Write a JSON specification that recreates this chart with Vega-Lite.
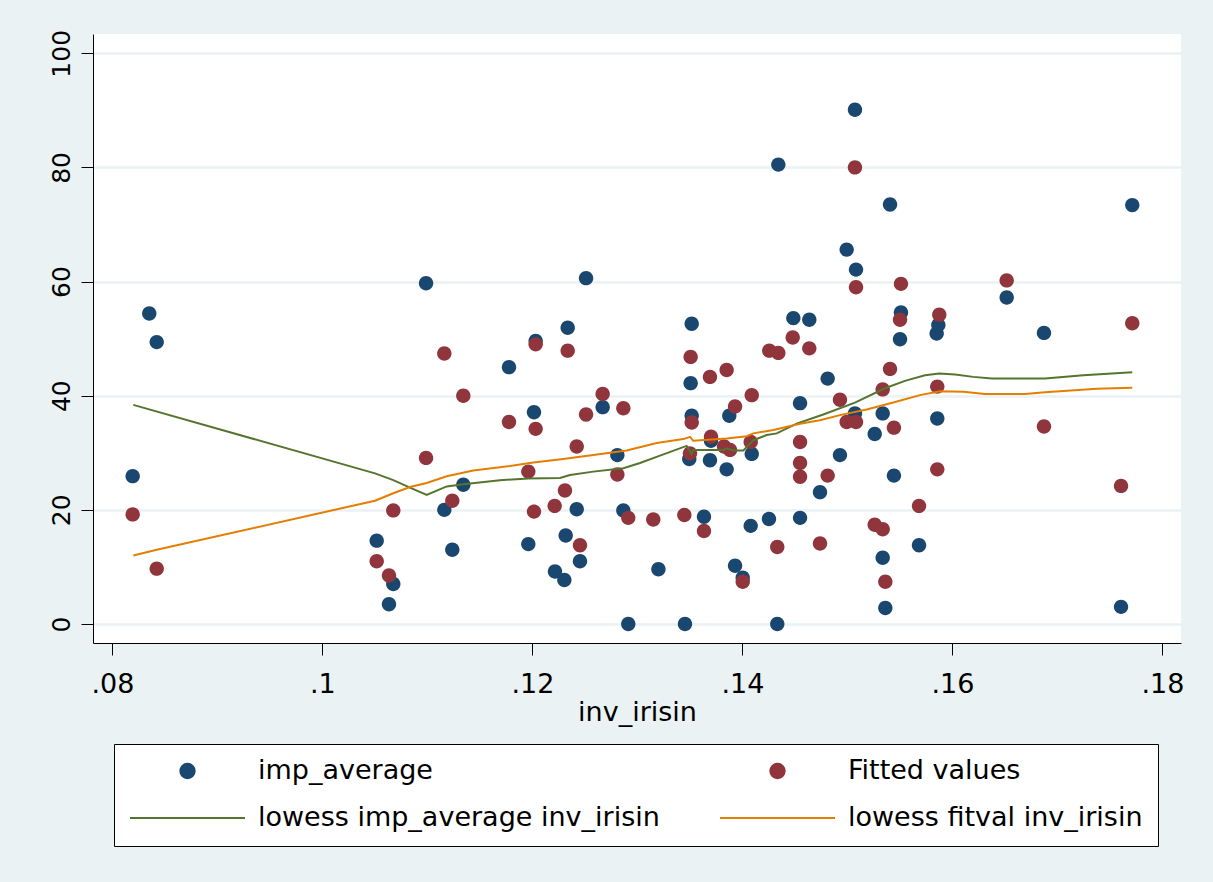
{
  "$schema": "https://vega.github.io/schema/vega-lite/v6.json",
  "width": 1088,
  "height": 609,
  "autosize": {"type": "none"},
  "padding": {"left": 93, "top": 34, "right": 32, "bottom": 239},
  "background": "#EAF2F3",
  "config": {
    "view": {"fill": "white", "stroke": null},
    "font": "DejaVu Sans",
    "axis": {
      "domainColor": "black",
      "domainWidth": 1,
      "tickColor": "black",
      "tickWidth": 1,
      "tickSize": 12,
      "labelColor": "black",
      "labelFont": "DejaVu Sans",
      "titleFont": "DejaVu Sans",
      "titleColor": "black",
      "titleFontWeight": "normal"
    },
    "legend": {
      "orient": "none",
      "direction": "horizontal",
      "legendX": 21,
      "legendY": 710,
      "columns": 2,
      "gridAlign": "each",
      "labelFont": "DejaVu Sans",
      "labelFontSize": 27,
      "labelColor": "black",
      "labelOffset": 12,
      "labelLimit": 800,
      "symbolSize": 13225,
      "symbolStrokeWidth": 2,
      "clipHeight": 24,
      "rowPadding": 20,
      "columnPadding": 59,
      "padding": 15,
      "strokeColor": "black",
      "fillColor": "white"
    }
  },
  "datasets": {
    "pts": [
      {"inv_irisin": 0.08193, "value": 25.9, "series": "imp_average"},
      {"inv_irisin": 0.08351, "value": 54.4, "series": "imp_average"},
      {"inv_irisin": 0.08422, "value": 49.4, "series": "imp_average"},
      {"inv_irisin": 0.10517, "value": 14.6, "series": "imp_average"},
      {"inv_irisin": 0.10634, "value": 3.45, "series": "imp_average"},
      {"inv_irisin": 0.10675, "value": 7.0, "series": "imp_average"},
      {"inv_irisin": 0.10987, "value": 59.7, "series": "imp_average"},
      {"inv_irisin": 0.11161, "value": 20.0, "series": "imp_average"},
      {"inv_irisin": 0.11237, "value": 13.0, "series": "imp_average"},
      {"inv_irisin": 0.11342, "value": 24.4, "series": "imp_average"},
      {"inv_irisin": 0.11777, "value": 45.0, "series": "imp_average"},
      {"inv_irisin": 0.11961, "value": 14.0, "series": "imp_average"},
      {"inv_irisin": 0.12015, "value": 37.1, "series": "imp_average"},
      {"inv_irisin": 0.12031, "value": 49.6, "series": "imp_average"},
      {"inv_irisin": 0.12215, "value": 9.2, "series": "imp_average"},
      {"inv_irisin": 0.12304, "value": 7.7, "series": "imp_average"},
      {"inv_irisin": 0.12317, "value": 15.5, "series": "imp_average"},
      {"inv_irisin": 0.12336, "value": 51.9, "series": "imp_average"},
      {"inv_irisin": 0.12422, "value": 20.1, "series": "imp_average"},
      {"inv_irisin": 0.12453, "value": 11.0, "series": "imp_average"},
      {"inv_irisin": 0.12511, "value": 60.6, "series": "imp_average"},
      {"inv_irisin": 0.12669, "value": 38.0, "series": "imp_average"},
      {"inv_irisin": 0.12809, "value": 29.6, "series": "imp_average"},
      {"inv_irisin": 0.12866, "value": 19.9, "series": "imp_average"},
      {"inv_irisin": 0.12913, "value": 0.0, "series": "imp_average"},
      {"inv_irisin": 0.132, "value": 9.6, "series": "imp_average"},
      {"inv_irisin": 0.13453, "value": 0.0, "series": "imp_average"},
      {"inv_irisin": 0.13494, "value": 28.9, "series": "imp_average"},
      {"inv_irisin": 0.13507, "value": 42.2, "series": "imp_average"},
      {"inv_irisin": 0.13517, "value": 52.6, "series": "imp_average"},
      {"inv_irisin": 0.13517, "value": 36.5, "series": "imp_average"},
      {"inv_irisin": 0.13634, "value": 18.8, "series": "imp_average"},
      {"inv_irisin": 0.13691, "value": 28.7, "series": "imp_average"},
      {"inv_irisin": 0.13701, "value": 32.1, "series": "imp_average"},
      {"inv_irisin": 0.1385, "value": 27.1, "series": "imp_average"},
      {"inv_irisin": 0.13875, "value": 36.5, "series": "imp_average"},
      {"inv_irisin": 0.1393, "value": 10.2, "series": "imp_average"},
      {"inv_irisin": 0.14003, "value": 8.1, "series": "imp_average"},
      {"inv_irisin": 0.14079, "value": 17.2, "series": "imp_average"},
      {"inv_irisin": 0.14089, "value": 29.8, "series": "imp_average"},
      {"inv_irisin": 0.14253, "value": 18.4, "series": "imp_average"},
      {"inv_irisin": 0.14332, "value": 0.0, "series": "imp_average"},
      {"inv_irisin": 0.14342, "value": 80.5, "series": "imp_average"},
      {"inv_irisin": 0.14485, "value": 53.6, "series": "imp_average"},
      {"inv_irisin": 0.14549, "value": 38.7, "series": "imp_average"},
      {"inv_irisin": 0.14549, "value": 18.6, "series": "imp_average"},
      {"inv_irisin": 0.14637, "value": 53.3, "series": "imp_average"},
      {"inv_irisin": 0.14739, "value": 23.1, "series": "imp_average"},
      {"inv_irisin": 0.14812, "value": 43.0, "series": "imp_average"},
      {"inv_irisin": 0.14929, "value": 29.6, "series": "imp_average"},
      {"inv_irisin": 0.14993, "value": 65.6, "series": "imp_average"},
      {"inv_irisin": 0.15072, "value": 90.1, "series": "imp_average"},
      {"inv_irisin": 0.15072, "value": 36.9, "series": "imp_average"},
      {"inv_irisin": 0.15082, "value": 62.1, "series": "imp_average"},
      {"inv_irisin": 0.1526, "value": 33.3, "series": "imp_average"},
      {"inv_irisin": 0.15336, "value": 36.9, "series": "imp_average"},
      {"inv_irisin": 0.15336, "value": 11.6, "series": "imp_average"},
      {"inv_irisin": 0.15361, "value": 2.8, "series": "imp_average"},
      {"inv_irisin": 0.15406, "value": 73.5, "series": "imp_average"},
      {"inv_irisin": 0.15443, "value": 26.0, "series": "imp_average"},
      {"inv_irisin": 0.1551, "value": 54.6, "series": "imp_average"},
      {"inv_irisin": 0.15501, "value": 49.9, "series": "imp_average"},
      {"inv_irisin": 0.15682, "value": 13.8, "series": "imp_average"},
      {"inv_irisin": 0.1585, "value": 50.9, "series": "imp_average"},
      {"inv_irisin": 0.15866, "value": 52.4, "series": "imp_average"},
      {"inv_irisin": 0.15856, "value": 36.0, "series": "imp_average"},
      {"inv_irisin": 0.16517, "value": 57.2, "series": "imp_average"},
      {"inv_irisin": 0.16872, "value": 51.0, "series": "imp_average"},
      {"inv_irisin": 0.17606, "value": 3.0, "series": "imp_average"},
      {"inv_irisin": 0.17713, "value": 73.4, "series": "imp_average"},
      {"inv_irisin": 0.08193, "value": 19.2, "series": "Fitted values"},
      {"inv_irisin": 0.08422, "value": 9.7, "series": "Fitted values"},
      {"inv_irisin": 0.10517, "value": 11.0, "series": "Fitted values"},
      {"inv_irisin": 0.10634, "value": 8.5, "series": "Fitted values"},
      {"inv_irisin": 0.10675, "value": 19.9, "series": "Fitted values"},
      {"inv_irisin": 0.10987, "value": 29.1, "series": "Fitted values"},
      {"inv_irisin": 0.11161, "value": 47.4, "series": "Fitted values"},
      {"inv_irisin": 0.11237, "value": 21.6, "series": "Fitted values"},
      {"inv_irisin": 0.11342, "value": 40.0, "series": "Fitted values"},
      {"inv_irisin": 0.11777, "value": 35.4, "series": "Fitted values"},
      {"inv_irisin": 0.11961, "value": 26.7, "series": "Fitted values"},
      {"inv_irisin": 0.12015, "value": 19.7, "series": "Fitted values"},
      {"inv_irisin": 0.12031, "value": 49.0, "series": "Fitted values"},
      {"inv_irisin": 0.12031, "value": 34.2, "series": "Fitted values"},
      {"inv_irisin": 0.12212, "value": 20.7, "series": "Fitted values"},
      {"inv_irisin": 0.1231, "value": 23.4, "series": "Fitted values"},
      {"inv_irisin": 0.12336, "value": 47.9, "series": "Fitted values"},
      {"inv_irisin": 0.12422, "value": 31.1, "series": "Fitted values"},
      {"inv_irisin": 0.12453, "value": 13.8, "series": "Fitted values"},
      {"inv_irisin": 0.12511, "value": 36.7, "series": "Fitted values"},
      {"inv_irisin": 0.12669, "value": 40.3, "series": "Fitted values"},
      {"inv_irisin": 0.12809, "value": 26.2, "series": "Fitted values"},
      {"inv_irisin": 0.12866, "value": 37.8, "series": "Fitted values"},
      {"inv_irisin": 0.12913, "value": 18.6, "series": "Fitted values"},
      {"inv_irisin": 0.13151, "value": 18.3, "series": "Fitted values"},
      {"inv_irisin": 0.13447, "value": 19.1, "series": "Fitted values"},
      {"inv_irisin": 0.13501, "value": 29.9, "series": "Fitted values"},
      {"inv_irisin": 0.13507, "value": 46.8, "series": "Fitted values"},
      {"inv_irisin": 0.13517, "value": 35.3, "series": "Fitted values"},
      {"inv_irisin": 0.13634, "value": 16.3, "series": "Fitted values"},
      {"inv_irisin": 0.13691, "value": 43.3, "series": "Fitted values"},
      {"inv_irisin": 0.13701, "value": 32.8, "series": "Fitted values"},
      {"inv_irisin": 0.13825, "value": 31.1, "series": "Fitted values"},
      {"inv_irisin": 0.1385, "value": 44.5, "series": "Fitted values"},
      {"inv_irisin": 0.13882, "value": 30.5, "series": "Fitted values"},
      {"inv_irisin": 0.1393, "value": 38.1, "series": "Fitted values"},
      {"inv_irisin": 0.14003, "value": 7.4, "series": "Fitted values"},
      {"inv_irisin": 0.14079, "value": 31.9, "series": "Fitted values"},
      {"inv_irisin": 0.14089, "value": 40.1, "series": "Fitted values"},
      {"inv_irisin": 0.14256, "value": 47.9, "series": "Fitted values"},
      {"inv_irisin": 0.14332, "value": 13.5, "series": "Fitted values"},
      {"inv_irisin": 0.14342, "value": 47.5, "series": "Fitted values"},
      {"inv_irisin": 0.14479, "value": 50.2, "series": "Fitted values"},
      {"inv_irisin": 0.14549, "value": 31.9, "series": "Fitted values"},
      {"inv_irisin": 0.14549, "value": 28.2, "series": "Fitted values"},
      {"inv_irisin": 0.14549, "value": 25.8, "series": "Fitted values"},
      {"inv_irisin": 0.14637, "value": 48.3, "series": "Fitted values"},
      {"inv_irisin": 0.14739, "value": 14.1, "series": "Fitted values"},
      {"inv_irisin": 0.14812, "value": 26.0, "series": "Fitted values"},
      {"inv_irisin": 0.14929, "value": 39.3, "series": "Fitted values"},
      {"inv_irisin": 0.14993, "value": 35.4, "series": "Fitted values"},
      {"inv_irisin": 0.15072, "value": 80.0, "series": "Fitted values"},
      {"inv_irisin": 0.15082, "value": 59.0, "series": "Fitted values"},
      {"inv_irisin": 0.15082, "value": 35.4, "series": "Fitted values"},
      {"inv_irisin": 0.1526, "value": 17.4, "series": "Fitted values"},
      {"inv_irisin": 0.15336, "value": 41.1, "series": "Fitted values"},
      {"inv_irisin": 0.15336, "value": 16.6, "series": "Fitted values"},
      {"inv_irisin": 0.15361, "value": 7.4, "series": "Fitted values"},
      {"inv_irisin": 0.15406, "value": 44.7, "series": "Fitted values"},
      {"inv_irisin": 0.15443, "value": 34.4, "series": "Fitted values"},
      {"inv_irisin": 0.1551, "value": 59.6, "series": "Fitted values"},
      {"inv_irisin": 0.15501, "value": 53.3, "series": "Fitted values"},
      {"inv_irisin": 0.15682, "value": 20.7, "series": "Fitted values"},
      {"inv_irisin": 0.15856, "value": 41.6, "series": "Fitted values"},
      {"inv_irisin": 0.15875, "value": 54.2, "series": "Fitted values"},
      {"inv_irisin": 0.15856, "value": 27.1, "series": "Fitted values"},
      {"inv_irisin": 0.16517, "value": 60.2, "series": "Fitted values"},
      {"inv_irisin": 0.16872, "value": 34.6, "series": "Fitted values"},
      {"inv_irisin": 0.17606, "value": 24.2, "series": "Fitted values"},
      {"inv_irisin": 0.17713, "value": 52.7, "series": "Fitted values"}
    ],
    "lines": [
      {"inv_irisin": 0.08199, "value": 38.4, "series": "lowess imp_average inv_irisin"},
      {"inv_irisin": 0.10501, "value": 26.4, "series": "lowess imp_average inv_irisin"},
      {"inv_irisin": 0.10675, "value": 25.2, "series": "lowess imp_average inv_irisin"},
      {"inv_irisin": 0.10834, "value": 23.9, "series": "lowess imp_average inv_irisin"},
      {"inv_irisin": 0.10993, "value": 22.6, "series": "lowess imp_average inv_irisin"},
      {"inv_irisin": 0.11184, "value": 24.1, "series": "lowess imp_average inv_irisin"},
      {"inv_irisin": 0.11342, "value": 24.5, "series": "lowess imp_average inv_irisin"},
      {"inv_irisin": 0.11691, "value": 25.2, "series": "lowess imp_average inv_irisin"},
      {"inv_irisin": 0.11961, "value": 25.5, "series": "lowess imp_average inv_irisin"},
      {"inv_irisin": 0.12263, "value": 25.6, "series": "lowess imp_average inv_irisin"},
      {"inv_irisin": 0.12358, "value": 26.1, "series": "lowess imp_average inv_irisin"},
      {"inv_irisin": 0.1258, "value": 26.7, "series": "lowess imp_average inv_irisin"},
      {"inv_irisin": 0.12866, "value": 27.3, "series": "lowess imp_average inv_irisin"},
      {"inv_irisin": 0.13025, "value": 28.2, "series": "lowess imp_average inv_irisin"},
      {"inv_irisin": 0.13215, "value": 29.5, "series": "lowess imp_average inv_irisin"},
      {"inv_irisin": 0.13469, "value": 31.2, "series": "lowess imp_average inv_irisin"},
      {"inv_irisin": 0.13517, "value": 29.8, "series": "lowess imp_average inv_irisin"},
      {"inv_irisin": 0.13532, "value": 30.5, "series": "lowess imp_average inv_irisin"},
      {"inv_irisin": 0.13818, "value": 30.5, "series": "lowess imp_average inv_irisin"},
      {"inv_irisin": 0.1385, "value": 30.8, "series": "lowess imp_average inv_irisin"},
      {"inv_irisin": 0.13913, "value": 30.4, "series": "lowess imp_average inv_irisin"},
      {"inv_irisin": 0.14009, "value": 30.4, "series": "lowess imp_average inv_irisin"},
      {"inv_irisin": 0.14104, "value": 32.2, "series": "lowess imp_average inv_irisin"},
      {"inv_irisin": 0.14231, "value": 33.1, "series": "lowess imp_average inv_irisin"},
      {"inv_irisin": 0.14327, "value": 33.4, "series": "lowess imp_average inv_irisin"},
      {"inv_irisin": 0.14517, "value": 35.1, "series": "lowess imp_average inv_irisin"},
      {"inv_irisin": 0.1477, "value": 36.7, "series": "lowess imp_average inv_irisin"},
      {"inv_irisin": 0.15072, "value": 38.8, "series": "lowess imp_average inv_irisin"},
      {"inv_irisin": 0.15358, "value": 41.3, "series": "lowess imp_average inv_irisin"},
      {"inv_irisin": 0.15548, "value": 42.6, "series": "lowess imp_average inv_irisin"},
      {"inv_irisin": 0.15739, "value": 43.6, "series": "lowess imp_average inv_irisin"},
      {"inv_irisin": 0.15875, "value": 43.9, "series": "lowess imp_average inv_irisin"},
      {"inv_irisin": 0.16025, "value": 43.7, "series": "lowess imp_average inv_irisin"},
      {"inv_irisin": 0.16199, "value": 43.3, "series": "lowess imp_average inv_irisin"},
      {"inv_irisin": 0.16374, "value": 43.0, "series": "lowess imp_average inv_irisin"},
      {"inv_irisin": 0.16882, "value": 43.0, "series": "lowess imp_average inv_irisin"},
      {"inv_irisin": 0.17247, "value": 43.6, "series": "lowess imp_average inv_irisin"},
      {"inv_irisin": 0.17713, "value": 44.1, "series": "lowess imp_average inv_irisin"},
      {"inv_irisin": 0.08199, "value": 12.0, "series": "lowess fitval inv_irisin"},
      {"inv_irisin": 0.08422, "value": 13.0, "series": "lowess fitval inv_irisin"},
      {"inv_irisin": 0.10501, "value": 21.6, "series": "lowess fitval inv_irisin"},
      {"inv_irisin": 0.10675, "value": 22.9, "series": "lowess fitval inv_irisin"},
      {"inv_irisin": 0.10834, "value": 24.0, "series": "lowess fitval inv_irisin"},
      {"inv_irisin": 0.10993, "value": 24.7, "series": "lowess fitval inv_irisin"},
      {"inv_irisin": 0.11184, "value": 25.9, "series": "lowess fitval inv_irisin"},
      {"inv_irisin": 0.11437, "value": 26.9, "series": "lowess fitval inv_irisin"},
      {"inv_irisin": 0.11787, "value": 27.7, "series": "lowess fitval inv_irisin"},
      {"inv_irisin": 0.12009, "value": 28.3, "series": "lowess fitval inv_irisin"},
      {"inv_irisin": 0.12294, "value": 28.9, "series": "lowess fitval inv_irisin"},
      {"inv_irisin": 0.1258, "value": 29.6, "series": "lowess fitval inv_irisin"},
      {"inv_irisin": 0.12898, "value": 30.4, "series": "lowess fitval inv_irisin"},
      {"inv_irisin": 0.13184, "value": 31.7, "series": "lowess fitval inv_irisin"},
      {"inv_irisin": 0.13437, "value": 32.4, "series": "lowess fitval inv_irisin"},
      {"inv_irisin": 0.13501, "value": 32.8, "series": "lowess fitval inv_irisin"},
      {"inv_irisin": 0.13532, "value": 32.1, "series": "lowess fitval inv_irisin"},
      {"inv_irisin": 0.1385, "value": 32.5, "series": "lowess fitval inv_irisin"},
      {"inv_irisin": 0.14041, "value": 32.9, "series": "lowess fitval inv_irisin"},
      {"inv_irisin": 0.14104, "value": 33.4, "series": "lowess fitval inv_irisin"},
      {"inv_irisin": 0.14294, "value": 34.0, "series": "lowess fitval inv_irisin"},
      {"inv_irisin": 0.14549, "value": 35.1, "series": "lowess fitval inv_irisin"},
      {"inv_irisin": 0.14739, "value": 35.7, "series": "lowess fitval inv_irisin"},
      {"inv_irisin": 0.14929, "value": 36.6, "series": "lowess fitval inv_irisin"},
      {"inv_irisin": 0.15184, "value": 37.6, "series": "lowess fitval inv_irisin"},
      {"inv_irisin": 0.15437, "value": 38.8, "series": "lowess fitval inv_irisin"},
      {"inv_irisin": 0.15691, "value": 40.1, "series": "lowess fitval inv_irisin"},
      {"inv_irisin": 0.15882, "value": 40.8, "series": "lowess fitval inv_irisin"},
      {"inv_irisin": 0.16104, "value": 40.7, "series": "lowess fitval inv_irisin"},
      {"inv_irisin": 0.1631, "value": 40.3, "series": "lowess fitval inv_irisin"},
      {"inv_irisin": 0.16691, "value": 40.3, "series": "lowess fitval inv_irisin"},
      {"inv_irisin": 0.16882, "value": 40.6, "series": "lowess fitval inv_irisin"},
      {"inv_irisin": 0.17374, "value": 41.2, "series": "lowess fitval inv_irisin"},
      {"inv_irisin": 0.17713, "value": 41.4, "series": "lowess fitval inv_irisin"}
    ]
  },
  "encoding": {
    "x": {
      "field": "inv_irisin",
      "type": "quantitative",
      "scale": {"domain": [0.078152, 0.181771], "nice": false, "zero": false},
      "axis": {
        "title": "inv_irisin",
        "titleFontSize": 27,
        "titlePadding": 2,
        "values": [0.08, 0.1, 0.12, 0.14, 0.16, 0.18],
        "labelExpr": "substring(format(datum.value, '.2~f'), 1)",
        "labelFontSize": 27,
        "labelPadding": 16,
        "labelFlush": false,
        "labelOverlap": false,
        "grid": false,
        "tickSize": 12
      }
    },
    "y": {
      "field": "value",
      "type": "quantitative",
      "scale": {"domain": [-3.33, 103.38], "nice": false, "zero": false},
      "axis": {
        "title": null,
        "values": [0, 20, 40, 60, 80, 100],
        "labelAngle": -90,
        "labelAlign": "center",
        "labelBaseline": "alphabetic",
        "labelFontSize": 25,
        "labelPadding": 12,
        "labelFlush": false,
        "labelOverlap": false,
        "grid": true,
        "gridColor": "#EAF2F3",
        "gridWidth": 2.5,
        "tickSize": 12
      }
    }
  },
  "layer": [
    {
      "data": {"name": "pts"},
      "mark": {"type": "point", "filled": true, "size": 13225, "opacity": 1, "strokeWidth": 0},
      "encoding": {
        "color": {
          "field": "series",
          "type": "nominal",
          "sort": ["imp_average", "Fitted values", "lowess imp_average inv_irisin", "lowess fitval inv_irisin"],
          "scale": {
            "domain": ["imp_average", "Fitted values", "lowess imp_average inv_irisin", "lowess fitval inv_irisin"],
            "range": ["#1A476F", "#90353B", "#55752F", "#E37E00"]
          },
          "legend": {
            "title": null,
            "direction": "horizontal",
            "values": ["imp_average", "Fitted values", "lowess imp_average inv_irisin", "lowess fitval inv_irisin"],
            "encode": {
              "symbols": {
                "update": {
                  "fill": {"scale": "color", "field": "value"},
                  "stroke": {"scale": "color", "field": "value"},
                  "strokeWidth": [{"test": "indexof(datum.value, 'lowess') === 0", "value": 2}, {"value": 0}],
                  "opacity": {"value": 1}
                }
              }
            }
          }
        },
        "shape": {
          "field": "series",
          "type": "nominal",
          "sort": ["imp_average", "Fitted values", "lowess imp_average inv_irisin", "lowess fitval inv_irisin"],
          "scale": {
            "domain": ["imp_average", "Fitted values", "lowess imp_average inv_irisin", "lowess fitval inv_irisin"],
            "range": [
              "M0.125,0A0.125,0.125,0,1,1,-0.125,0A0.125,0.125,0,1,1,0.125,0Z",
              "M0.125,0A0.125,0.125,0,1,1,-0.125,0A0.125,0.125,0,1,1,0.125,0Z",
              "M-1,0L1,0",
              "M-1,0L1,0"
            ]
          },
          "legend": {
            "title": null,
            "direction": "horizontal",
            "values": ["imp_average", "Fitted values", "lowess imp_average inv_irisin", "lowess fitval inv_irisin"]
          }
        }
      }
    },
    {
      "data": {"name": "lines"},
      "mark": {"type": "line", "strokeWidth": 2},
      "encoding": {
        "color": {
          "field": "series",
          "type": "nominal",
          "sort": ["imp_average", "Fitted values", "lowess imp_average inv_irisin", "lowess fitval inv_irisin"]
        }
      }
    }
  ]
}
